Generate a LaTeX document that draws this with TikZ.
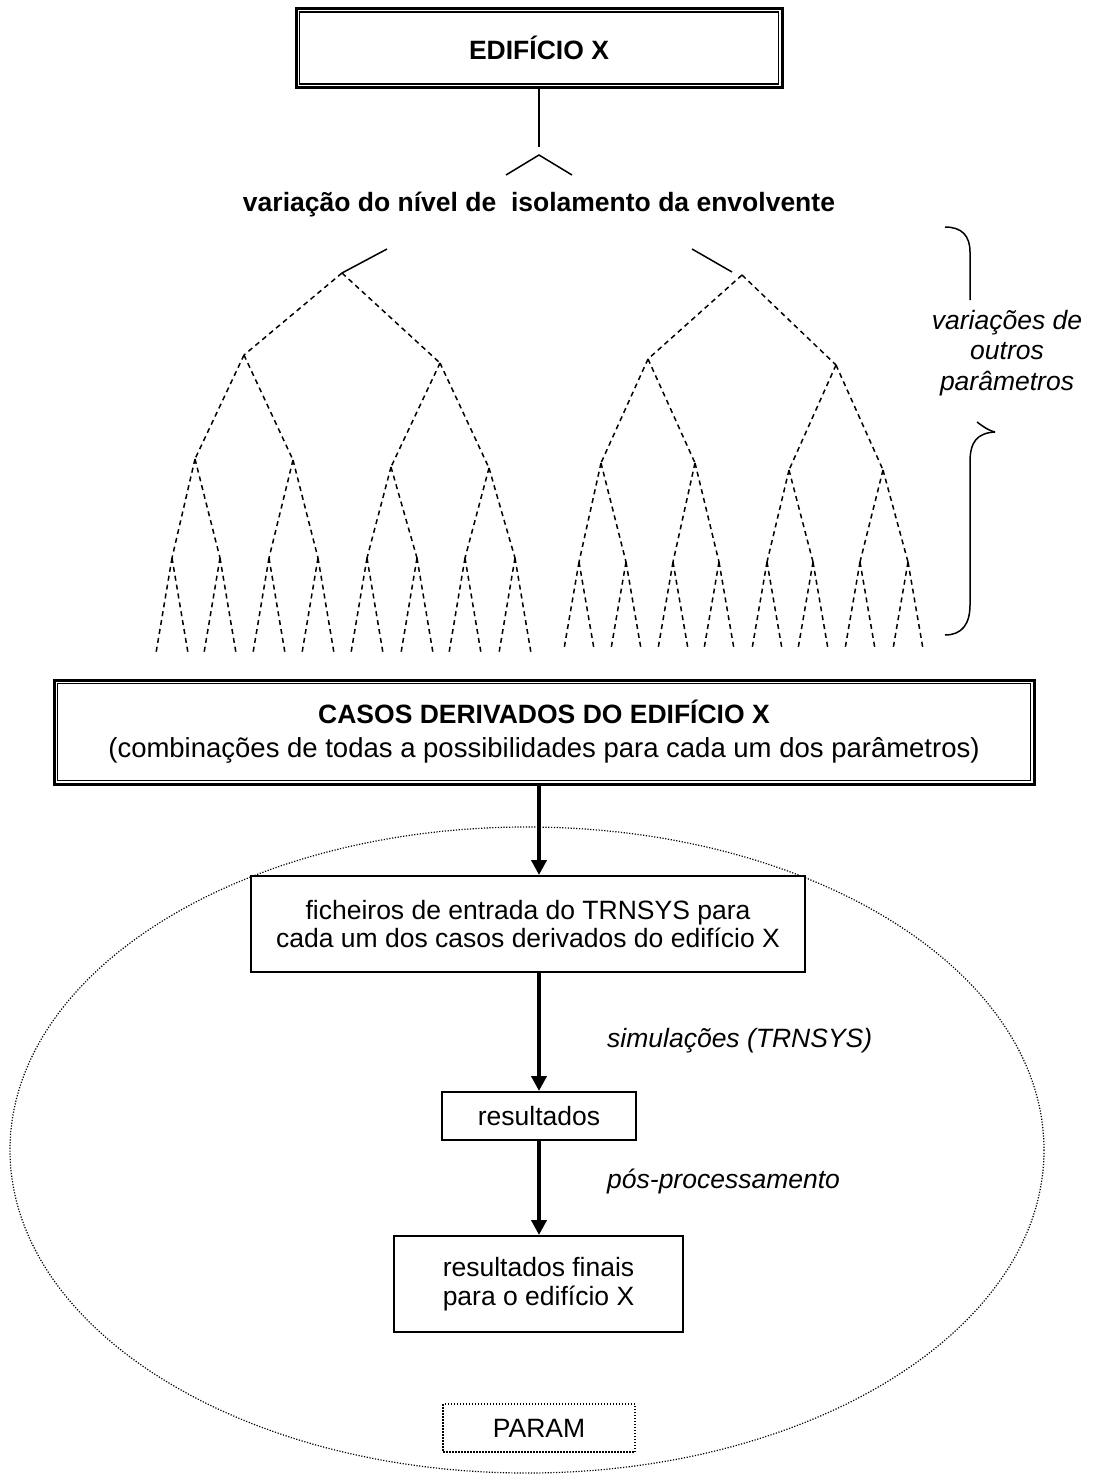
\documentclass[tikz,border=0pt]{standalone}
\usepackage{fontspec}
\setmainfont{Liberation Sans}
\usetikzlibrary{arrows.meta}
\begin{document}
\begin{tikzpicture}[x=1pt,y=-1pt,
  every node/.style={font=\fontsize{26.5}{28.5}\selectfont},
  plainbox/.style={draw, line width=2pt, fill=white, inner sep=0pt, align=center},
  dblouter/.style={draw, line width=3pt, fill=white, inner sep=0pt, align=center},
  dblinner/.style={line width=1.5pt},
  treeline/.style={line width=1.5pt, dash pattern=on 5pt off 4pt},
  solidline/.style={line width=1.5pt},
  flow/.style={line width=4pt, -{Triangle[length=15pt,width=15pt]}},
  dotbox/.style={draw, line width=2pt, dash pattern=on 1.5pt off 1.5pt, fill=white, inner sep=0pt, align=center},
  lbl/.style={font=\fontsize{26.5}{30.5}\selectfont\itshape, inner sep=0pt, align=center}]

\useasboundingbox (0,0) rectangle (1095,1477);
\fill[white] (0,0) rectangle (1095,1477);

% ellipse around the processing chain
\draw[line width=1.2pt, dash pattern=on 1.2pt off 1.6pt] (527,1150) ellipse [x radius=517, y radius=323];

% top box
\node[dblouter, minimum width=486pt, minimum height=79pt, font=\fontsize{26.5}{31}\selectfont\bfseries] (edx) at (539,48) {EDIFÍCIO X};
\draw[dblinner] ([shift={(5,5)}]edx.north west) rectangle ([shift={(-5,-5)}]edx.south east);

\coordinate (stemend) at (539,147);
\draw[solidline] (edx.south) -- (stemend);
\coordinate (chev) at (539,155);
\coordinate (chevl) at (506,175);
\coordinate (chevr) at (572,175);
\draw[solidline] (chevl) -- (chev) -- (chevr);

\node[font=\fontsize{26.5}{31}\selectfont\bfseries, inner sep=0pt] (var) at (539,205) {variação do nível de \ isolamento da envolvente};

% left tree
\coordinate (lsol) at (387,249);
\coordinate (la) at (342,273);
\coordinate (lb1) at (244,355); \coordinate (lb2) at (440,363);
\coordinate (lc1) at (195,459); \coordinate (lc2) at (293,460);
\coordinate (lc3) at (391,467); \coordinate (lc4) at (489,468);
\foreach \i/\x in {1/172,2/220,3/269,4/318,5/367,6/417,7/465,8/515} {
  \coordinate (ld\i) at (\x,558);
  \coordinate (lel\i) at (\x-16,653);
  \coordinate (ler\i) at (\x+16,653);
}
\draw[solidline] (lsol) -- (la);
\foreach \p/\c in {la/lb1,la/lb2,lb1/lc1,lb1/lc2,lb2/lc3,lb2/lc4,lc1/ld1,lc1/ld2,lc2/ld3,lc2/ld4,lc3/ld5,lc3/ld6,lc4/ld7,lc4/ld8}
  \draw[treeline] (\p) -- (\c);
\foreach \i in {1,...,8} {
  \draw[treeline] (ld\i) -- (lel\i);
  \draw[treeline] (ld\i) -- (ler\i);
}

% right tree
\coordinate (rsol) at (692,249);
\coordinate (rsole) at (732,272);
\coordinate (ra) at (742,275);
\coordinate (rb1) at (648,359); \coordinate (rb2) at (836,365);
\coordinate (rc1) at (601,463); \coordinate (rc2) at (695,463);
\coordinate (rc3) at (789,470); \coordinate (rc4) at (883,470);
\foreach \i/\x in {1/579,2/626,3/673,4/719,5/767,6/813,7/860,8/908} {
  \coordinate (rd\i) at (\x,562);
  \coordinate (rel\i) at (\x-15,649);
  \coordinate (rer\i) at (\x+15,649);
}
\draw[solidline] (rsol) -- (rsole);
\foreach \p/\c in {ra/rb1,ra/rb2,rb1/rc1,rb1/rc2,rb2/rc3,rb2/rc4,rc1/rd1,rc1/rd2,rc2/rd3,rc2/rd4,rc3/rd5,rc3/rd6,rc4/rd7,rc4/rd8}
  \draw[treeline] (\p) -- (\c);
\foreach \i in {1,...,8} {
  \draw[treeline] (rd\i) -- (rel\i);
  \draw[treeline] (rd\i) -- (rer\i);
}

% brace and its label
\coordinate (bt) at (945,227);
\coordinate (bt2) at (970,300);
\coordinate (bstub) at (977,422);
\coordinate (btip) at (995,432);
\coordinate (bb) at (945,635);
\draw[solidline] (bt) .. controls (962,227) and (970,236) .. (970,252) -- (bt2);
\draw[solidline] (bstub) .. controls (985,428) and (990,431) .. (btip);
\draw[solidline] (btip) .. controls (977,433) and (970,442) .. (970,462) -- (970,605) .. controls (970,624) and (962,635) .. (bb);
\node[lbl] (varo) at (1007,353) {variações de\\outros\\parâmetros};

% derived cases box
\node[dblouter, minimum width=980pt, minimum height=104pt, font=\fontsize{27.5}{34}\selectfont] (casos) at (544,732)
  {{\fontsize{26.5}{34}\selectfont\bfseries CASOS DERIVADOS DO EDIFÍCIO X}\\(combinações de todas a possibilidades para cada um dos parâmetros)};
\draw[dblinner] ([shift={(5,5)}]casos.north west) rectangle ([shift={(-5,-5)}]casos.south east);

% processing chain
\node[plainbox, minimum width=554pt, minimum height=96pt] (fich) at (528,924)
  {ficheiros de entrada do TRNSYS para\\cada um dos casos derivados do edifício X};
\node[plainbox, minimum width=194pt, minimum height=48pt] (res) at (539,1116) {resultados};
\node[plainbox, minimum width=289pt, minimum height=96pt] (fin) at (538.5,1284) {resultados finais\\para o edifício X};
\node[dotbox, minimum width=192pt, minimum height=48pt] (param) at (539,1428) {PARAM};

\coordinate (ax) at (539,0);
\draw[flow] (casos.south -| ax) -- (fich.north -| ax);
\draw[flow] (fich.south -| ax) -- (res.north);
\draw[flow] (res.south) -- (fin.north -| ax);

\node[lbl, anchor=west] (sim) at (607,1041) {simulações (TRNSYS)};
\node[lbl, anchor=west] (pos) at (607,1181) {pós-processamento};
\end{tikzpicture}
\end{document}
